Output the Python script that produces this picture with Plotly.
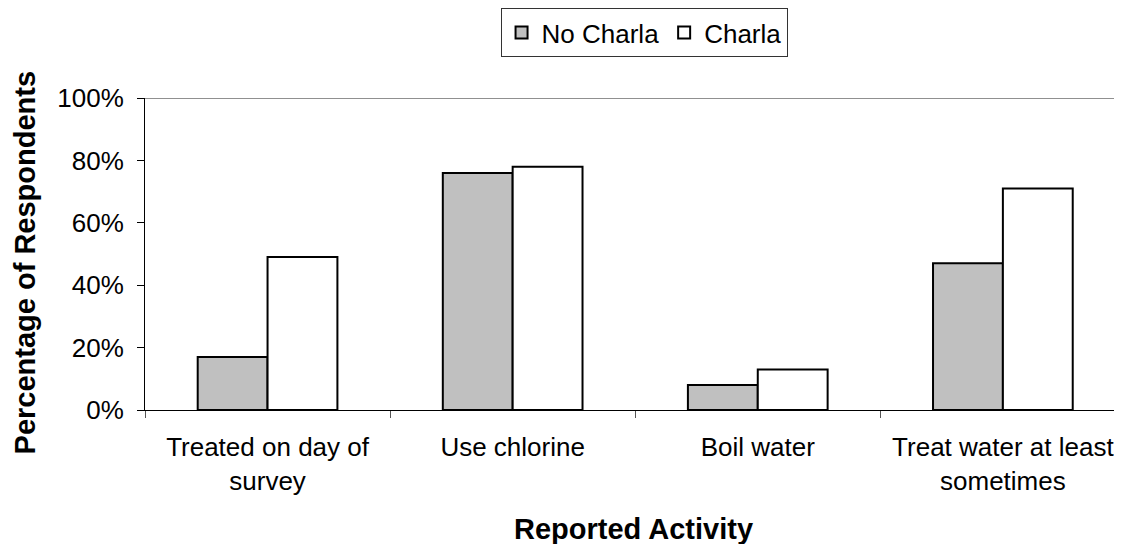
import plotly.graph_objects as go

categories = ["Treated on day of<br>survey", "Use chlorine", "Boil water", "Treat water at least<br>sometimes"]
no_charla = [0.17, 0.76, 0.08, 0.47]
charla = [0.49, 0.78, 0.13, 0.71]
y_ticks = [0, 0.2, 0.4, 0.6, 0.8, 1.0]
y_tick_labels = ["0%", "20%", "40%", "60%", "80%", "100%"]

FONT = "Liberation Sans, Arial, sans-serif"

fig = go.Figure()
fig.add_trace(go.Bar(name="No Charla", x=categories, y=no_charla,
                     marker=dict(color="#c0c0c0", line=dict(color="black", width=2))))
fig.add_trace(go.Bar(name="Charla", x=categories, y=charla,
                     marker=dict(color="white", line=dict(color="black", width=2))))

# page has an 8px body margin, so figure is sized/margined to compensate
fig.update_layout(
    width=1114, height=536,
    margin=dict(l=137, r=0, t=89, b=134),
    paper_bgcolor="white", plot_bgcolor="white",
    barmode="group", bargap=0.43, bargroupgap=0,
    font=dict(family=FONT, size=26, color="black"),
    legend=dict(orientation="h", x=0.5108, xanchor="center", y=1.29, yanchor="top",
                bordercolor="#333333", borderwidth=1, font=dict(size=26),
                itemwidth=30, tracegroupgap=0),
    showlegend=True,
)
fig.update_xaxes(
    range=[-0.5, 3.486], showline=True, linecolor="black", linewidth=1,
    ticks="outside", ticklen=7, tickcolor="#555555", tickson="boundaries",
    ticklabelstandoff=14, tickfont=dict(size=26),
)
fig.update_yaxes(
    range=[0, 1.0], tickvals=y_ticks, ticktext=y_tick_labels,
    showline=True, linecolor="black", linewidth=1, showgrid=False,
    ticks="outside", ticklen=7, tickcolor="black", ticklabelstandoff=8,
    tickfont=dict(size=26), zeroline=False,
)
fig.add_shape(type="line", xref="paper", yref="y", x0=0, x1=1, y0=1.0, y1=1.0,
              line=dict(color="#222222", width=1))
fig.add_annotation(text="<b>Reported Activity</b>", xref="paper", yref="paper",
                   x=0.5, y=-0.380, xanchor="center", yanchor="middle",
                   showarrow=False, font=dict(size=29))
fig.add_annotation(text="<b>Percentage of Respondents</b>", xref="paper", yref="paper",
                   x=-0.1228, y=0.473, xanchor="center", yanchor="middle", textangle=-90,
                   showarrow=False, font=dict(size=29))

fig.write_html("out.html")
